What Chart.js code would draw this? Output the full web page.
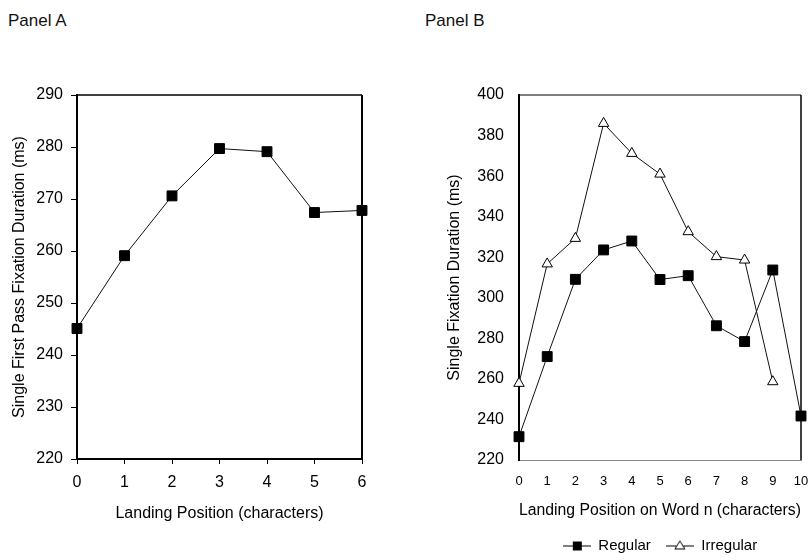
<!DOCTYPE html>
<html>
<head>
<meta charset="utf-8">
<script src="https://cdn.jsdelivr.net/npm/chart.js@4.4.1/dist/chart.umd.min.js"></script>
<style>
  html, body { margin: 0; padding: 0; background: #fff; overflow: hidden; }
  body { width: 809px; height: 560px; position: relative; font-family: "Liberation Sans", Arial, sans-serif; }
  .panel-label { position: absolute; top: 11px; font-size: 17px; color: #111; }
  #wrapA { position: absolute; left: 0; top: 0; width: 400px; height: 560px; }
  #wrapB { position: absolute; left: 400px; top: 0; width: 430px; height: 560px; }
</style>
</head>
<body>
<div class="panel-label" style="left:8px">Panel A</div>
<div class="panel-label" style="left:425px">Panel B</div>
<div id="wrapA"><canvas id="chartA"></canvas></div>
<div id="wrapB"><canvas id="chartB"></canvas></div>
<script>
// Panel A data
const positionsA = ['0', '1', '2', '3', '4', '5', '6'];
const firstPassA = [245.1, 259.1, 270.6, 279.7, 279.1, 267.4, 267.8];

// Panel B data
const positionsB = ['0', '1', '2', '3', '4', '5', '6', '7', '8', '9', '10'];
const regularB = [231.5, 271, 309.1, 323.6, 328, 309, 310.9, 286.2, 278.4, 313.7, 241.7];
const irregularB = [257.8, 316.7, 329.3, 386, 371.2, 361, 332.6, 320.3, 318.6, 258.6, null];

Chart.defaults.font.family = '"Liberation Sans", Arial, sans-serif';
Chart.defaults.color = '#000';

// top and right edges of the plot box
const frame = {
  id: 'frame',
  beforeDatasetsDraw(chart, args, opts) {
    const { ctx, chartArea: a } = chart;
    ctx.save();
    ctx.strokeStyle = opts.color;
    ctx.lineWidth = opts.top;
    ctx.beginPath();
    ctx.moveTo(a.left, a.top);
    ctx.lineTo(a.right, a.top);
    ctx.stroke();
    ctx.lineWidth = opts.right;
    ctx.beginPath();
    ctx.moveTo(a.right, a.top);
    ctx.lineTo(a.right, a.bottom);
    ctx.stroke();
    ctx.restore();
  }
};

function legendIcon(kind) {
  const c = document.createElement('canvas');
  c.width = 28;
  c.height = 12;
  const g = c.getContext('2d');
  g.strokeStyle = '#000';
  g.lineWidth = 1;
  g.beginPath();
  g.moveTo(0, 6.5);
  g.lineTo(28, 6.5);
  g.stroke();
  if (kind === 'square') {
    g.fillStyle = '#000';
    g.fillRect(10, 2, 9, 9);
  } else {
    g.fillStyle = '#fff';
    g.beginPath();
    g.moveTo(14, 1.5);
    g.lineTo(19, 9.5);
    g.lineTo(9, 9.5);
    g.closePath();
    g.fill();
    g.stroke();
  }
  return c;
}
const icons = [legendIcon('square'), legendIcon('triangle')];

new Chart(document.getElementById('chartA'), {
  type: 'line',
  data: {
    labels: positionsA,
    datasets: [{
      data: firstPassA,
      borderColor: '#111',
      borderWidth: 1,
      pointStyle: 'rect',
      pointRadius: 7,
      pointBackgroundColor: '#000',
      pointBorderColor: '#000',
      clip: false
    }]
  },
  options: {
    responsive: true,
    maintainAspectRatio: false,
    animation: false,
    events: [],
    layout: { padding: { left: 0, right: 38, top: 95, bottom: 0 } },
    scales: {
      x: {
        grid: { display: true, drawOnChartArea: false, drawTicks: true, tickLength: 5, color: '#000' },
        border: { display: true, color: '#000', width: 2 },
        ticks: { font: { size: 16 }, padding: 9, maxRotation: 0, autoSkip: false },
        title: { display: true, text: 'Landing Position (characters)', font: { size: 16 }, padding: { top: 0, bottom: 37 } },
        afterFit: s => { s.height = 101; }
      },
      y: {
        min: 220,
        max: 290,
        grid: { display: true, drawOnChartArea: false, drawTicks: true, tickLength: 6, color: '#000' },
        border: { display: true, color: '#000', width: 2 },
        ticks: { stepSize: 10, font: { size: 16 }, padding: 8 },
        title: { display: true, text: 'Single First Pass Fixation Duration (ms)', font: { size: 16 }, padding: { top: 10, bottom: 0 } },
        afterFit: s => { s.width = 77; }
      }
    },
    plugins: {
      legend: { display: false },
      tooltip: { enabled: false },
      frame: { color: '#000', top: 1.5, right: 2 }
    }
  },
  plugins: [frame]
});

new Chart(document.getElementById('chartB'), {
  type: 'line',
  data: {
    labels: positionsB,
    datasets: [
      {
        label: 'Regular',
        data: regularB,
        borderColor: '#111',
        borderWidth: 1,
        pointStyle: 'rect',
        pointRadius: 7,
        pointBackgroundColor: '#000',
        pointBorderColor: '#000',
        clip: false
      },
      {
        label: 'Irregular',
        data: irregularB,
        borderColor: '#111',
        borderWidth: 1,
        pointStyle: 'triangle',
        pointRadius: 6,
        pointBackgroundColor: '#fff',
        pointBorderColor: '#000',
        pointBorderWidth: 1,
        clip: false
      }
    ]
  },
  options: {
    responsive: true,
    maintainAspectRatio: false,
    animation: false,
    events: [],
    layout: { padding: { left: 0, right: 29, top: 95, bottom: -3 } },
    scales: {
      x: {
        grid: { display: false, drawTicks: false },
        border: { display: true, color: '#888', width: 1 },
        ticks: { font: { size: 13 }, padding: 14, maxRotation: 0, autoSkip: false },
        title: { display: true, text: 'Landing Position on Word n (characters)', font: { size: 16 }, padding: { top: 0, bottom: 3 } },
        afterFit: s => { s.height = 63; }
      },
      y: {
        min: 220,
        max: 400,
        grid: { display: false, drawTicks: false },
        border: { display: true, color: '#000', width: 2 },
        ticks: { stepSize: 20, font: { size: 16 }, padding: 15 },
        title: { display: true, text: 'Single Fixation Duration (ms)', font: { size: 16 }, padding: { top: 45, bottom: 0 } },
        afterFit: s => { s.width = 119; }
      }
    },
    plugins: {
      legend: {
        position: 'bottom',
        fullSize: false,
        labels: {
          usePointStyle: true,
          pointStyleWidth: 28,
          padding: 15,
          color: '#000',
          font: { size: 15 },
          generateLabels: chart => chart.data.datasets.map((ds, i) => ({
            text: ds.label,
            pointStyle: icons[i],
            fontColor: '#000',
            lineWidth: 0,
            hidden: false,
            datasetIndex: i
          }))
        }
      },
      tooltip: { enabled: false },
      frame: { color: '#000', top: 1, right: 1.5 }
    }
  },
  plugins: [frame]
});
</script>
</body>
</html>
